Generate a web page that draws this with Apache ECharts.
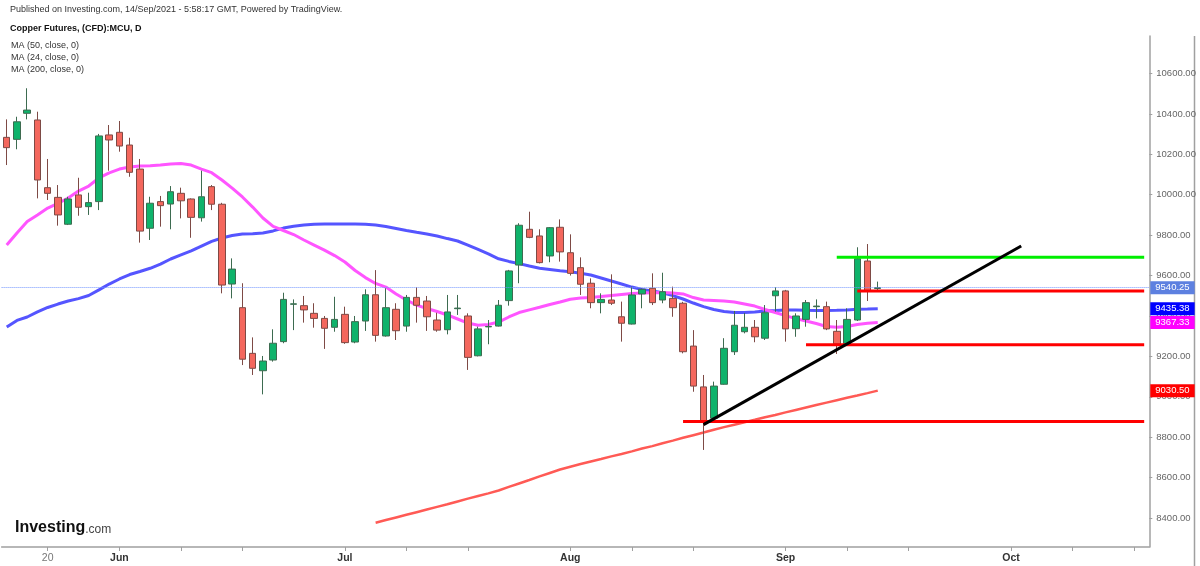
<!DOCTYPE html>
<html>
<head>
<meta charset="utf-8">
<title>Copper Futures, (CFD):MCU, D</title>
<script src="https://cdn.jsdelivr.net/npm/echarts/dist/echarts.min.js"></script>
<style>
  html, body { margin: 0; padding: 0; background: #fff; }
  #chart { width: 1200px; height: 566px; }
</style>
</head>
<body>
<div id="chart"></div>
<script>
// trading days (UK calendar: 31 May and 30 Aug are missing), future days fill the right margin
const dates = [
  '2021-05-14', '2021-05-17', '2021-05-18', '2021-05-19', '2021-05-20', '2021-05-21', '2021-05-24', '2021-05-25',
  '2021-05-26', '2021-05-27', '2021-05-28', '2021-06-01', '2021-06-02', '2021-06-03', '2021-06-04', '2021-06-07',
  '2021-06-08', '2021-06-09', '2021-06-10', '2021-06-11', '2021-06-14', '2021-06-15', '2021-06-16', '2021-06-17',
  '2021-06-18', '2021-06-21', '2021-06-22', '2021-06-23', '2021-06-24', '2021-06-25', '2021-06-28', '2021-06-29',
  '2021-06-30', '2021-07-01', '2021-07-02', '2021-07-05', '2021-07-06', '2021-07-07', '2021-07-08', '2021-07-09',
  '2021-07-12', '2021-07-13', '2021-07-14', '2021-07-15', '2021-07-16', '2021-07-19', '2021-07-20', '2021-07-21',
  '2021-07-22', '2021-07-23', '2021-07-26', '2021-07-27', '2021-07-28', '2021-07-29', '2021-07-30', '2021-08-02',
  '2021-08-03', '2021-08-04', '2021-08-05', '2021-08-06', '2021-08-09', '2021-08-10', '2021-08-11', '2021-08-12',
  '2021-08-13', '2021-08-16', '2021-08-17', '2021-08-18', '2021-08-19', '2021-08-20', '2021-08-23', '2021-08-24',
  '2021-08-25', '2021-08-26', '2021-08-27', '2021-08-31', '2021-09-01', '2021-09-02', '2021-09-03', '2021-09-06',
  '2021-09-07', '2021-09-08', '2021-09-09', '2021-09-10', '2021-09-13', '2021-09-14', '2021-09-15', '2021-09-16',
  '2021-09-17', '2021-09-20', '2021-09-21', '2021-09-22', '2021-09-23', '2021-09-24', '2021-09-27', '2021-09-28',
  '2021-09-29', '2021-09-30', '2021-10-01', '2021-10-04', '2021-10-05', '2021-10-06', '2021-10-07', '2021-10-08',
  '2021-10-11', '2021-10-12', '2021-10-13', '2021-10-14', '2021-10-15', '2021-10-18', '2021-10-19', '2021-10-20'
];

const labelDates = ['2021-05-20', '2021-06-01', '2021-07-01', '2021-08-02', '2021-09-01', '2021-10-01'];
const labelTexts = ['20', 'Jun', 'Jul', 'Aug', 'Sep', 'Oct'];
const minorTickDates = ['2021-06-09', '2021-06-17', '2021-07-09', '2021-07-19', '2021-08-10', '2021-08-18',
  '2021-09-09', '2021-09-17', '2021-10-11', '2021-10-19'];

const opens = [
  10284, 10274, 10403, 10370, 10035, 9987, 9854, 9999, 9941, 9966,
  10296, 10309, 10246, 10127, 9834, 9966, 9954, 10007, 9979, 9886,
  10040, 9953, 9558, 9441, 9215, 9129, 9182, 9273, 9458, 9451,
  9413, 9388, 9344, 9408, 9271, 9375, 9505, 9301, 9433, 9350,
  9492, 9474, 9380, 9332, 9436, 9400, 9203, 9346, 9350, 9476,
  9652, 9829, 9796, 9697, 9839, 9713, 9639, 9562, 9466, 9479,
  9396, 9360, 9509, 9537, 9479, 9487, 9463, 9251, 9049, 8894,
  9062, 9223, 9322, 9344, 9290, 9500, 9524, 9337, 9383, 9446,
  9446, 9324, 9261, 9380, 9672, 9536
];
const closes = [
  10233, 10361, 10419, 10073, 10007, 9900, 9979, 9938, 9961, 10291,
  10271, 10241, 10111, 9820, 9958, 9946, 10015, 9970, 9888, 9990,
  9953, 9553, 9632, 9186, 9141, 9177, 9265, 9482, 9460, 9430,
  9388, 9339, 9383, 9268, 9372, 9505, 9304, 9441, 9327, 9492,
  9453, 9396, 9330, 9420, 9439, 9195, 9336, 9348, 9453, 9623,
  9849, 9789, 9664, 9837, 9717, 9611, 9557, 9466, 9482, 9463,
  9364, 9504, 9532, 9466, 9520, 9441, 9223, 9053, 8880, 9053,
  9240, 9354, 9344, 9297, 9416, 9524, 9336, 9400, 9466, 9449,
  9336, 9261, 9383, 9683, 9524, 9540.25
];
const highs = [
  10373, 10386, 10527, 10411, 10177, 10048, 9990, 10084, 10010, 10301,
  10345, 10365, 10282, 10177, 9990, 9994, 10043, 10035, 9982, 10119,
  10048, 9960, 9685, 9562, 9294, 9202, 9334, 9515, 9482, 9499,
  9463, 9400, 9495, 9446, 9400, 9532, 9627, 9537, 9463, 9504,
  9542, 9499, 9416, 9504, 9504, 9413, 9347, 9380, 9479, 9628,
  9859, 9916, 9829, 9840, 9878, 9804, 9690, 9586, 9512, 9606,
  9471, 9545, 9535, 9611, 9614, 9545, 9470, 9330, 9108, 9075,
  9290, 9425, 9415, 9380, 9454, 9542, 9529, 9413, 9479, 9482,
  9471, 9380, 9438, 9740, 9756, 9570
];
const lows = [
  10147, 10225, 10373, 9982, 9974, 9847, 9850, 9896, 9900, 9924,
  10119, 10213, 10089, 9763, 9776, 9842, 9829, 9883, 9787, 9867,
  9924, 9512, 9487, 9157, 9108, 9012, 9174, 9265, 9330, 9367,
  9342, 9237, 9322, 9262, 9265, 9326, 9273, 9298, 9281, 9322,
  9367, 9326, 9322, 9309, 9405, 9133, 9200, 9260, 9348, 9451,
  9562, 9785, 9660, 9666, 9669, 9600, 9504, 9438, 9413, 9454,
  9273, 9358, 9438, 9454, 9463, 9396, 9215, 9025, 8737, 8890,
  9060, 9207, 9314, 9270, 9281, 9421, 9273, 9297, 9347, 9388,
  9330, 9212, 9256, 9375, 9474, 9520
];

const ma50 = [
  9345, 9378, 9395, 9420, 9442, 9459, 9474, 9486, 9501, 9529,
  9558, 9583, 9605, 9620, 9636, 9657, 9682, 9702, 9722, 9746,
  9769, 9786, 9798, 9806, 9807, 9811, 9821, 9835, 9844, 9850,
  9854, 9855, 9855, 9855, 9855, 9854, 9850, 9843, 9833, 9823,
  9814, 9806, 9796, 9783, 9771, 9751, 9729, 9707, 9683, 9670,
  9659, 9647, 9636, 9630, 9624, 9619, 9611, 9603, 9588, 9573,
  9558, 9543, 9531, 9524, 9515, 9501, 9484, 9464, 9446, 9432,
  9422, 9417, 9417, 9420, 9425, 9427, 9430, 9430, 9428, 9427,
  9427, 9428, 9430, 9433, 9434, 9435.38
];
const ma24 = [
  9751, 9811, 9868, 9900, 9934, 9957, 9984, 10018, 10043, 10083,
  10108, 10127, 10137, 10142, 10144, 10147, 10152, 10155, 10147, 10127,
  10109, 10073, 10033, 9989, 9939, 9885, 9843, 9823, 9803, 9776,
  9751, 9726, 9699, 9667, 9625, 9590, 9561, 9543, 9509, 9479,
  9454, 9437, 9422, 9405, 9385, 9365, 9354, 9358, 9370, 9395,
  9417, 9430, 9443, 9457, 9469, 9483, 9489, 9492, 9496, 9501,
  9506, 9511, 9514, 9515, 9516, 9514, 9509, 9491, 9479, 9477,
  9474, 9469, 9459, 9449, 9432, 9417, 9402, 9387, 9375, 9363,
  9348, 9344, 9348, 9358, 9364, 9367.33
];
// MA 200 is only drawn from 6 July
const ma200Start = '2021-07-06';
const ma200 = [
  8377, 8390, 8403, 8416, 8429, 8442, 8455, 8468, 8482, 8496,
  8509, 8522, 8536, 8554, 8571, 8588, 8606, 8623, 8640, 8654,
  8667, 8680, 8692, 8705, 8717, 8730, 8744, 8756, 8770, 8783,
  8797, 8810, 8823, 8837, 8850, 8862, 8874, 8886, 8899, 8910,
  8923, 8935, 8947, 8959, 8971, 8983, 8995, 9006, 9018, 9030.5
];

const lastPrice = 9540.25;

// hand drawn support / resistance lines
const levelFrom = ['2021-09-08', '2021-09-10', '2021-09-03', '2021-08-17'];
const levelTo = ['2021-10-20', '2021-10-20', '2021-10-20', '2021-10-20'];
const levelValues = [9690, 9524, 9257, 8878];
const levelColors = ['#00ee00', '#ff0000', '#ff0000', '#ff0000'];
const trendFrom = ['2021-08-19', 8862];
const trendTo = ['2021-10-04', 9746];

const FONT = '"Liberation Sans", Arial, sans-serif';

const candleData = opens.map((o, i) => [o, closes[i], lows[i], highs[i]]);
const ma200Data = ma200.map((v, i) => [dates[dates.indexOf(ma200Start) + i], v]);

// coloured value box on the price axis
const priceTag = (value, bg, lineStyle) => ({
  silent: true,
  symbol: ['none', 'none'],
  animation: false,
  data: [{ yAxis: value }],
  lineStyle: lineStyle || { color: 'rgba(0,0,0,0)', width: 1 },
  label: {
    show: true,
    position: 'end',
    distance: 1,
    formatter: () => value.toFixed(2),
    color: '#fff',
    backgroundColor: bg,
    fontFamily: FONT,
    fontSize: 9.5,
    padding: [1, 5, 1, 5],
    lineHeight: 11
  }
});

const levelSeries = levelValues.map((v, i) => ({
  type: 'line',
  silent: true,
  symbol: 'none',
  z: 6,
  data: [[levelFrom[i], v], [levelTo[i], v]],
  lineStyle: { color: levelColors[i], width: 3 }
}));

const dom = document.getElementById('chart');
const myChart = echarts.init(dom, null, { renderer: 'canvas' });

const option = {
  animation: false,
  backgroundColor: '#fff',
  grid: {
    left: 1.6, right: 50.7, top: 36, bottom: 19,
    containLabel: false, outerBoundsMode: 'none'
  },
  xAxis: {
    type: 'category',
    data: dates,
    boundaryGap: true,
    axisLine: { lineStyle: { color: '#a0a0a0', width: 1.5 } },
    axisTick: {
      show: true,
      alignWithLabel: true,
      length: 4,
      lineStyle: { color: '#a0a0a0' },
      interval: (idx, value) => labelDates.includes(value) || minorTickDates.includes(value)
    },
    axisLabel: {
      interval: (idx, value) => labelDates.includes(value),
      margin: 6,
      formatter: (value) => {
        const t = labelTexts[labelDates.indexOf(value)];
        return /^\d+$/.test(t) ? `{d|${t}}` : `{m|${t}}`;
      },
      rich: {
        d: { color: '#777', fontSize: 10.5, fontFamily: FONT },
        m: { color: '#333', fontSize: 10.5, fontWeight: 'bold', fontFamily: FONT }
      }
    },
    splitLine: { show: false }
  },
  yAxis: {
    type: 'value',
    position: 'right',
    scale: true,
    min: 8256.6,
    max: 10785.6,
    splitNumber: 12,
    axisLine: { show: true, lineStyle: { color: '#a0a0a0', width: 1.5 } },
    axisTick: { show: true, length: 3, lineStyle: { color: '#a0a0a0' } },
    axisLabel: {
      showMinLabel: false,
      showMaxLabel: false,
      margin: 7,
      color: '#666',
      fontSize: 9.5,
      fontFamily: FONT,
      formatter: (v) => v.toFixed(2)
    },
    splitLine: { show: false }
  },
  series: [
    {
      name: 'MA (200, close, 0)',
      type: 'line',
      data: ma200Data,
      symbol: 'none',
      z: 3,
      lineStyle: { color: '#ff5a55', width: 2.5 },
      markLine: priceTag(9030.5, '#ff0000')
    },
    {
      name: 'MA (50, close, 0)',
      type: 'line',
      data: ma50,
      symbol: 'none',
      z: 3,
      lineStyle: { color: '#5555ff', width: 3 },
      markLine: priceTag(9435.38, '#0000ff')
    },
    {
      name: 'MA (24, close, 0)',
      type: 'line',
      data: ma24,
      symbol: 'none',
      z: 3,
      lineStyle: { color: '#ff55ff', width: 3 },
      markLine: priceTag(9367.33, '#ff00ff')
    },
    {
      name: 'Copper Futures',
      type: 'candlestick',
      data: candleData,
      barWidth: 7,
      z: 4,
      itemStyle: {
        color: '#0fb36b',
        color0: '#f4675d',
        borderColor: '#3d6b50',
        borderColor0: '#7e4a45',
        borderWidth: 1
      },
      markLine: priceTag(lastPrice, '#5d80e0', { color: '#7396ff', type: 'dotted', width: 1 })
    },
    ...levelSeries,
    {
      type: 'line',
      silent: true,
      symbol: 'none',
      z: 6,
      data: [trendFrom, trendTo],
      lineStyle: { color: '#000', width: 3 }
    }
  ],
  graphic: [
    { type: 'text', x: 10, y: 10, style: { text: 'Published on Investing.com, 14/Sep/2021 - 5:58:17 GMT, Powered by TradingView.', fontSize: 9, fontFamily: FONT, fill: '#333', verticalAlign: 'middle' } },
    { type: 'text', x: 10, y: 29, style: { text: 'Copper Futures, (CFD):MCU, D', fontSize: 9, fontWeight: 'bold', fontFamily: FONT, fill: '#111', verticalAlign: 'middle' } },
    { type: 'text', x: 11, y: 46, style: { text: 'MA (50, close, 0)', fontSize: 9, fontFamily: FONT, fill: '#333', verticalAlign: 'middle' } },
    { type: 'text', x: 11, y: 58, style: { text: 'MA (24, close, 0)', fontSize: 9, fontFamily: FONT, fill: '#333', verticalAlign: 'middle' } },
    { type: 'text', x: 11, y: 70, style: { text: 'MA (200, close, 0)', fontSize: 9, fontFamily: FONT, fill: '#333', verticalAlign: 'middle' } },
    {
      type: 'text', x: 15, y: 528,
      style: {
        text: '{a|Investing}{b|.com}',
        verticalAlign: 'middle',
        rich: {
          a: { fontSize: 16, fontWeight: 'bold', fontFamily: FONT, fill: '#111', color: '#111' },
          b: { fontSize: 12, fontFamily: FONT, fill: '#444', color: '#444', padding: [3, 0, 0, 0] }
        }
      }
    },
    { type: 'line', shape: { x1: 1194.5, y1: 36, x2: 1194.5, y2: 566 }, style: { stroke: '#a0a0a0', lineWidth: 1.5 } }
  ]
};

myChart.setOption(option);
window.addEventListener('resize', myChart.resize);
</script>
</body>
</html>
